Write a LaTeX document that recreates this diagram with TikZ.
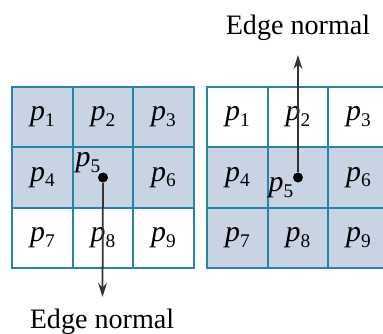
\documentclass[tikz,border=0pt]{standalone}
\usepackage{fontspec}
\setmainfont{Liberation Serif}
\usetikzlibrary{arrows.meta}
\definecolor{gridblue}{RGB}{40,130,170}
\definecolor{cellfill}{RGB}{200,212,228}
\newcommand{\pix}[1]{\textit{p}\raisebox{-0.4ex}{\fontsize{11}{12}\selectfont #1}}

\begin{document}
\begin{tikzpicture}[
  x=0.02cm, y=-0.02cm,
  cell/.style={draw=gridblue, line width=1.1pt, minimum size=1.21cm, inner sep=0pt,
               font=\fontsize{17}{18}\selectfont},
  shaded/.style={cell, fill=cellfill},
  plain/.style={cell, fill=white},
  pt/.style={circle, fill=black, inner sep=0pt, minimum size=0.2cm},
  ar/.style={-{Stealth[length=8pt,width=5pt]}, line width=1pt, black!80},
  lbl/.style={font=\fontsize{16}{18}\selectfont}
]
\useasboundingbox (0,0) rectangle (383,334);
% left mask: top two rows shaded
\foreach \n/\sty in {1/shaded,2/shaded,3/shaded,4/shaded,5/shaded,6/shaded,7/plain,8/plain,9/plain} {
  \pgfmathtruncatemacro\c{mod(\n-1,3)}
  \pgfmathtruncatemacro\r{(\n-1)/3}
  \node[\sty] (L\n) at ({42.5+60.5*\c},{117+60.5*\r}) {\ifnum\n=5\else\pix{\n}\fi};
}
% right mask: bottom two rows shaded
\foreach \n/\sty in {1/plain,2/plain,3/plain,4/shaded,5/shaded,6/shaded,7/shaded,8/shaded,9/shaded} {
  \pgfmathtruncatemacro\c{mod(\n-1,3)}
  \pgfmathtruncatemacro\r{(\n-1)/3}
  \node[\sty] (R\n) at ({237.5+60.5*\c},{117+60.5*\r}) {\ifnum\n=5\else\pix{\n}\fi};
}
\node[font=\fontsize{17}{18}\selectfont] (pL) at (88,163) {\pix{5}};
\node[font=\fontsize{17}{18}\selectfont] (pR) at (281,188) {\pix{5}};

\node[pt] (dotL) at (L5.center) {};
\node[pt] (dotR) at (R5.center) {};
\coordinate (tipL) at (102.5,297);
\coordinate (tipR) at (298,55);
\draw[ar] (dotL) -- (tipL);
\draw[ar] (dotR) -- (tipR);

\node[lbl] (txtL) at (102,322) {Edge normal};
\node[lbl] (txtR) at (298,28) {Edge normal};
\end{tikzpicture}
\end{document}
